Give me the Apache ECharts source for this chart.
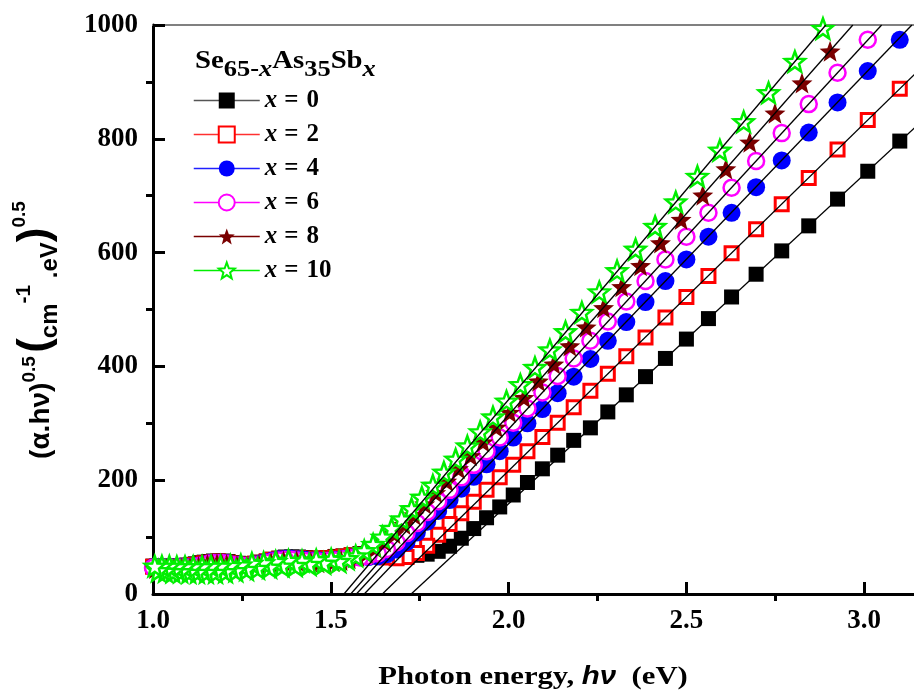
<!DOCTYPE html>
<html>
<head>
<meta charset="utf-8">
<script src="https://cdn.jsdelivr.net/npm/echarts@6/dist/echarts.min.js"></script>
<style>html,body{margin:0;padding:0;background:#fff}#c{width:914px;height:691px}</style>
</head>
<body>
<div id="c"></div>
<script>
// Photon energy grids (eV)
const energyA = [3.100,3.010,2.925,2.844,2.768,2.696,2.627,2.562,2.500,2.441,2.385,2.331,2.279,2.230,2.183,2.138,2.095,2.053,2.013,1.975,1.938,1.902,1.867,1.834,1.802,1.771,1.742,1.713,1.685,1.658,1.632,1.606,1.582,1.558,1.535,1.512,1.490,1.469,1.449,1.429,1.409,1.390,1.372,1.354,1.336,1.319,1.303,1.286,1.270,1.255,1.240,1.225,1.211,1.197,1.183,1.170,1.157,1.144,1.131,1.119,1.107,1.095,1.084,1.073,1.062,1.051,1.040,1.030,1.020,1.010,1.000];
const energyB = [3.077,2.988,2.904,2.825,2.749,2.678,2.611,2.546,2.485,2.427,2.371,2.318,2.267,2.218,2.172,2.127,2.084,2.043,2.003,1.965,1.928,1.893,1.859,1.826,1.795,1.764,1.734,1.706,1.678,1.651,1.625,1.600,1.576,1.552,1.529,1.507,1.485,1.464,1.444,1.424,1.404,1.385,1.367,1.349,1.332,1.315,1.298,1.282,1.267,1.251,1.236,1.222,1.207,1.193,1.180,1.167,1.153,1.141,1.128,1.116,1.104,1.093,1.081,1.070,1.059,1.048,1.038,1.027,1.017,1.007];
const energyC = [3.054,2.967,2.884,2.805,2.731,2.661,2.594,2.531,2.470,2.412,2.357,2.305,2.255,2.206,2.160,2.116,2.074,2.033,1.994,1.956,1.920,1.884,1.851,1.818,1.787,1.756,1.727,1.699,1.671,1.645,1.619,1.594,1.570,1.546,1.523,1.501,1.480,1.459,1.439,1.419,1.400,1.381,1.363,1.345,1.328,1.311,1.294,1.278,1.263,1.247,1.233,1.218,1.204,1.190,1.176,1.163,1.150,1.138,1.125,1.113,1.101,1.090,1.078,1.067,1.056,1.046,1.035,1.025,1.015,1.005];

// (alpha.h nu)^0.5 values
const valX0 = [796,743,694,647,603,562,522,484,448,414,382,350,320,292,270,244,220,196,174,153,134,115,98,84,75,70,68,69,70,71,72,72,71,69,67,66,64,63,63,64,65,65,65,63,61,58,56,54,53,53,54,55,57,58,58,58,57,56,55,53,52,51,50,50,49,49,49,49,49,49,49];
const valX2 = [888,833,781,731,685,641,599,559,522,486,451,418,387,357,328,301,276,251,227,205,183,162,142,123,104,85,72,65,63,64,66,68,69,68,66,64,63,62,62,62,63,63,63,62,60,57,55,53,52,51,52,53,55,56,57,56,55,54,52,51,50,49,49,48,48,48,48,48,48,48,48];
const valX4 = [974,919,864,811,762,715,670,628,588,550,513,478,445,413,382,353,325,300,275,251,228,206,185,165,146,127,108,91,78,70,66,65,65,64,62,60,59,59,59,60,61,62,62,61,59,56,54,52,50,50,51,52,54,55,55,55,54,52,50,49,48,47,47,47,47,47,47,47,47,47,47];
const valX6 = [1034,974,916,861,810,761,714,670,628,588,550,514,479,445,414,383,354,326,301,275,251,227,205,183,163,144,125,107,91,79,71,67,64,63,61,59,58,57,57,58,59,60,60,59,57,55,52,50,49,49,50,51,53,54,54,54,53,51,49,48,47,46,46,46,46,46,46,46,46,46,46];
const valX8 = [1077,1014,954,898,845,794,747,701,658,617,577,540,503,469,436,404,374,345,319,293,267,243,220,198,178,158,139,122,106,92,81,72,66,62,59,57,55,55,56,57,58,58,58,57,55,53,51,49,48,48,49,50,52,53,53,53,52,50,48,47,46,45,45,45,45,45,45,45,45,45];
const valX10 = [1120,1055,994,936,881,830,780,734,689,646,606,568,531,495,461,429,398,368,339,311,285,260,237,214,191,170,150,132,115,100,87,76,67,62,57,61,54,60,52,58,50,59,49,57,47,55,45,54,43,51,41,50,39,49,38,49,38,48,38,48,38,48,39,48,39,49,40,49,41,49];

// Linear fits: x-intercept (eV), end point energy and value
const fitIntercept = [1.726,1.645,1.594,1.572,1.556,1.537];
const fitEndEnergy = [3.200,3.200,3.134,3.049,2.968,2.892];
const fitEndValue  = [853,949,1000,1000,1000,1000];

const seriesNames = ['x = 0','x = 2','x = 4','x = 6','x = 8','x = 10'];
const xTicks = [1.0,1.5,2.0,2.5,3.0];

const STAR = 'path://M50,0L62.34,33.01L97.55,34.55L69.97,56.49L79.39,90.45L50,71L20.61,90.45L30.03,56.49L2.45,34.55L37.66,33.01Z';
const SERIF = 'Liberation Serif';
const SANS = 'Liberation Sans';

const dataSets = [
  {e: energyA, v: valX0, symbol: 'rect', size: 15, item: {color: '#000000'}, line: '#555555'},
  {e: energyA, v: valX2, symbol: 'rect', size: 13, item: {color: '#ffffff', borderColor: '#ff0000', borderWidth: 3}, line: '#ff3030'},
  {e: energyA, v: valX4, symbol: 'circle', size: 18, item: {color: '#0000ff'}, line: '#2020ff'},
  {e: energyA, v: valX6, symbol: 'circle', size: 16, item: {color: '#ffffff', borderColor: '#ff00ff', borderWidth: 2.5}, line: '#ff00ff'},
  {e: energyB, v: valX8, symbol: STAR, size: 21, item: {color: '#7a0000'}, line: '#7a0000'},
  {e: energyC, v: valX10, symbol: STAR, size: 20, item: {color: '#ffffff', borderColor: '#00ee00', borderWidth: 2.5}, line: '#00ee00'}
];

const series = [];
dataSets.forEach((d, k) => {
  series.push({
    name: seriesNames[k],
    type: 'line',
    data: d.e.map((e, i) => [e, d.v[i]]),
    symbol: d.symbol,
    symbolSize: d.size,
    showSymbol: true,
    showAllSymbol: true,
    itemStyle: d.item,
    lineStyle: {color: d.line, width: 0, opacity: 0},
    emphasis: {disabled: true},
    z: 2 + k * 0.01
  });
});
fitIntercept.forEach((x0, k) => {
  series.push({
    name: 'fit' + k,
    type: 'line',
    data: [[x0, 0], [fitEndEnergy[k], fitEndValue[k]]],
    symbol: 'none',
    silent: true,
    lineStyle: {color: '#000', width: 1.3},
    z: 5
  });
});

const labelFont = {fontFamily: SERIF, fontWeight: 'bold', fontSize: 27, color: '#000'};
const X_MAX = 3.14;

const option = {
  animation: false,
  backgroundColor: '#fff',
  grid: {left: 153, top: 25, right: 0, bottom: 97, containLabel: false},
  xAxis: [
    {type: 'value', min: 1, max: X_MAX, interval: 0.5, position: 'bottom',
     axisLine: {onZero: false, lineStyle: {color: '#000', width: 3}},
     axisTick: {inside: true, length: 12, lineStyle: {color: '#000', width: 3}},
     axisLabel: Object.assign({margin: 14, showMaxLabel: false, formatter: v => xTicks.indexOf(v) >= 0 ? v.toFixed(1) : ''}, labelFont),
     splitLine: {show: false}},
    {type: 'value', min: 1, max: X_MAX, interval: 0.5, position: 'bottom',
     axisLine: {show: false, onZero: false}, axisTick: {show: false, inside: false}, axisLabel: {show: false},
     minorTick: {show: true, splitNumber: 2, length: 7, lineStyle: {color: '#000', width: 3}},
     splitLine: {show: false}},
    {type: 'value', min: 1, max: X_MAX, position: 'top',
     axisLine: {onZero: false, lineStyle: {color: '#808080', width: 2}}, axisTick: {show: false}, axisLabel: {show: false},
     splitLine: {show: false}}
  ],
  yAxis: [
    {type: 'value', min: 0, max: 1000, interval: 200, position: 'left',
     axisLine: {onZero: false, lineStyle: {color: '#000', width: 3}},
     axisTick: {inside: true, length: 12, lineStyle: {color: '#000', width: 3}},
     axisLabel: Object.assign({margin: 15, formatter: v => String(v)}, labelFont),
     splitLine: {show: false}},
    {type: 'value', min: 0, max: 1000, interval: 200, position: 'left',
     axisLine: {show: false, onZero: false}, axisTick: {show: false, inside: false}, axisLabel: {show: false},
     minorTick: {show: true, splitNumber: 2, length: 7, lineStyle: {color: '#000', width: 3}},
     splitLine: {show: false}}
  ],
  legend: {
    orient: 'vertical', left: 193, top: 88, padding: 0,
    itemWidth: 66, itemHeight: 20, itemGap: 9,
    selectedMode: false,
    data: seriesNames,
    lineStyle: {width: 1.5, opacity: 1},
    formatter: name => '{i|x}{e|=}{n|' + name.split('=')[1].trim() + '}',
    textStyle: {
      color: '#000', fontSize: 25, lineHeight: 25,
      rich: {
        i: {fontFamily: SERIF, fontStyle: 'italic', fontWeight: 'bold', fontSize: 25, lineHeight: 25, color: '#000'},
        e: {fontFamily: SERIF, fontWeight: 'bold', fontSize: 25, lineHeight: 25, padding: [0, 8, 0, 7], color: '#000'},
        n: {fontFamily: SERIF, fontWeight: 'bold', fontSize: 25, lineHeight: 25, color: '#000'}
      }
    }
  },
  graphic: [
    {type: 'text', x: 195, y: 62, scaleX: 1.15, silent: true,
     style: {text: '{m|Se}{s|65-}{si|x}{m|As}{s|35}{m|Sb}{si|x}', align: 'left', verticalAlign: 'middle',
       rich: {
         m: {fontFamily: SERIF, fontWeight: 'bold', fontSize: 25, lineHeight: 25, verticalAlign: 'top', fill: '#000'},
         s: {fontFamily: SERIF, fontWeight: 'bold', fontSize: 23, lineHeight: 23, verticalAlign: 'top', padding: [9, 0, 0, 0], fill: '#000'},
         si: {fontFamily: SERIF, fontWeight: 'bold', fontStyle: 'italic', fontSize: 23, lineHeight: 23, verticalAlign: 'top', padding: [9, 0, 0, 0], fill: '#000'}
       }}},
    {type: 'text', x: 533, y: 677, scaleX: 1.18, silent: true,
     style: {text: '{a|Photon energy, }{h|hν}{a|  (eV)}', align: 'center', verticalAlign: 'middle',
       rich: {
         a: {fontFamily: SERIF, fontWeight: 'bold', fontSize: 26, fill: '#000'},
         h: {fontFamily: SANS, fontWeight: 'bold', fontStyle: 'italic', fontSize: 25, fill: '#000'}
       }}},
    {type: 'text', x: 32, y: 330, rotation: Math.PI / 2, silent: true,
     style: {text: '{m|(α.hν)}{p1|0.5}{g| }{bp|(}{c|cm}{s|-1}{c| .eV}{bp|)}{p2|0.5}', align: 'center', verticalAlign: 'middle',
       rich: {
         m: {fontFamily: SANS, fontWeight: 'bold', fontSize: 28, lineHeight: 28, verticalAlign: 'top', padding: [17, 0, 0, 0], fill: '#000'},
         p1: {fontFamily: SANS, fontWeight: 'bold', fontSize: 19, lineHeight: 19, verticalAlign: 'top', padding: [10, 0, 0, 0], fill: '#000'},
         g: {fontSize: 12, lineHeight: 12, verticalAlign: 'top'},
         bp: {fontFamily: SANS, fontWeight: 'bold', fontSize: 44, lineHeight: 44, verticalAlign: 'top', padding: [4, 0, 0, 0], fill: '#000'},
         c: {fontFamily: SANS, fontWeight: 'bold', fontSize: 24, lineHeight: 24, verticalAlign: 'top', padding: [28, 0, 0, 0], fill: '#000'},
         s: {fontFamily: SANS, fontWeight: 'bold', fontSize: 21, lineHeight: 21, verticalAlign: 'top', padding: [4, 0, 0, 0], fill: '#000'},
         p2: {fontFamily: SANS, fontWeight: 'bold', fontSize: 19, lineHeight: 19, verticalAlign: 'top', padding: [0, 0, 0, 0], fill: '#000'}
       }}}
  ],
  series: series
};

const chart = echarts.init(document.getElementById('c'), null, {renderer: 'canvas'});
chart.setOption(option);
</script>
</body>
</html>
